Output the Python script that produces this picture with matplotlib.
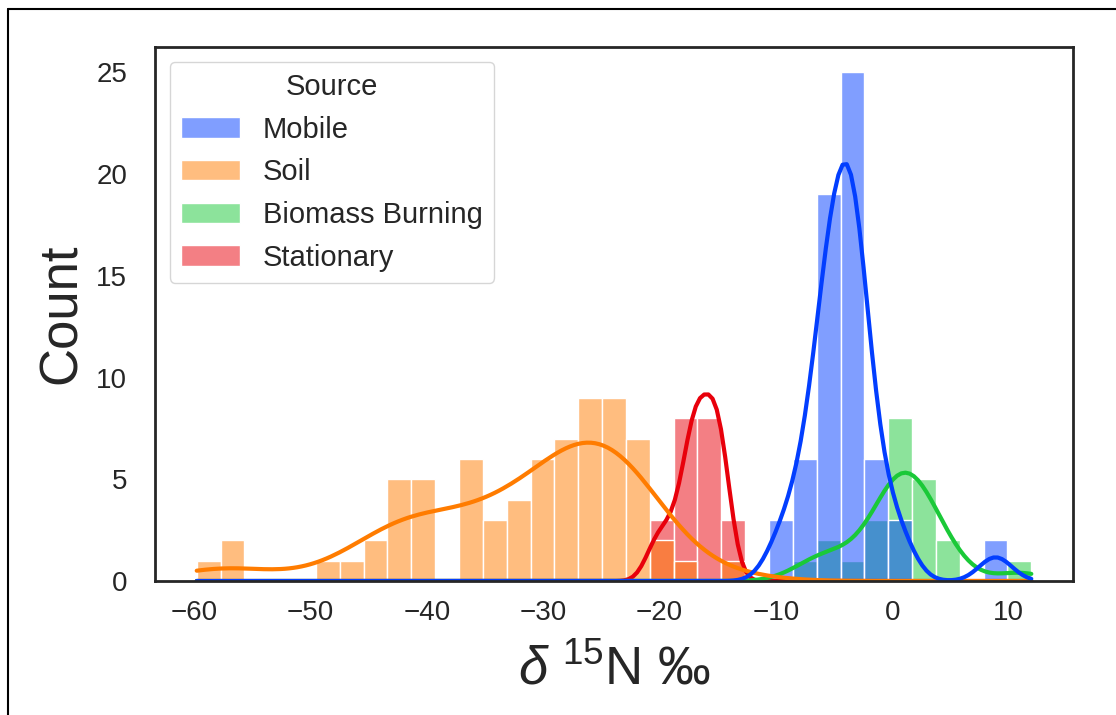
import numpy as np
import pandas as pd
import matplotlib
matplotlib.use("Agg")
import matplotlib.pyplot as plt
import seaborn as sns
from matplotlib.lines import Line2D

# histogram bins (delta 15N, permil)
bin_start = -59.77
bin_width = 2.049
n_bins = 35

# counts per bin for each source
mobile_counts = [0]*24 + [3, 6, 19, 25, 6, 3, 0, 0, 0, 2, 0]
soil_counts = [1, 2, 0, 0, 0, 1, 1, 2, 5, 5, 0, 6, 3, 4, 6, 7, 9, 9, 7, 2, 1, 0, 1] + [0]*12
biomass_counts = [0]*25 + [1, 2, 1, 3, 8, 5, 2, 0, 0, 1]

# stationary samples
stationary_values = [-20.6, -19.9, -19.2,
                     -18.4, -17.9, -17.5, -17.2, -17.0, -16.95, -16.88, -16.8,
                     -16.4, -16.0, -15.8, -15.6, -15.4, -15.2, -15.0, -14.8,
                     -14.6, -14.5, -14.4]

sources = ["Mobile", "Soil", "Biomass Burning", "Stationary"]

edges = bin_start + bin_width*np.arange(n_bins + 1)
centers = (edges[:-1] + edges[1:])/2

rows = []
for name, counts in zip(sources[:3], [mobile_counts, soil_counts, biomass_counts]):
    for v in np.repeat(centers, counts):
        rows.append((v, name))
for v in stationary_values:
    rows.append((v, "Stationary"))
df = pd.DataFrame(rows, columns=["d15N", "Source"])

sns.set_style("white")
plt.rcParams['font.family'] = ['Liberation Sans', 'DejaVu Sans']
plt.rcParams['mathtext.fontset'] = 'custom'
plt.rcParams['mathtext.rm'] = 'Liberation Sans'
plt.rcParams['mathtext.it'] = 'Liberation Sans:italic'

fig = plt.figure(figsize=(11.16, 7.15), dpi=100)
ax = fig.add_axes([0.1389, 0.1874, 0.8226, 0.7469])

sns.histplot(data=df, x="d15N", hue="Source", hue_order=sources,
             palette="bright", bins=edges, kde=True,
             kde_kws=dict(cut=1, clip=(edges[0], edges[-1])),
             line_kws=dict(linewidth=3), alpha=0.5, ax=ax)

for s in ax.spines.values():
    s.set_color('#262626')
    s.set_linewidth(2)

ax.set_xticks(range(-60, 11, 10))
ax.set_yticks(range(0, 26, 5))
ax.tick_params(axis='both', labelsize=20, length=0)
ax.tick_params(axis='x', pad=14)
ax.tick_params(axis='y', pad=20)
ax.set_ylabel("Count", fontsize=38, labelpad=7)
ax.set_xlabel(r"$\delta$ $^{15}$N ‰", fontsize=38, labelpad=14)

sns.move_legend(ax, "upper left", fontsize=21, title_fontsize=21)

# outer frame
fig.add_artist(Line2D([8/1116, 8/1116], [0, 1 - 9/715], transform=fig.transFigure, color='black', lw=1.5))
fig.add_artist(Line2D([8/1116, 1], [1 - 9/715, 1 - 9/715], transform=fig.transFigure, color='black', lw=1.5))

fig.savefig("out.png", dpi=100)
